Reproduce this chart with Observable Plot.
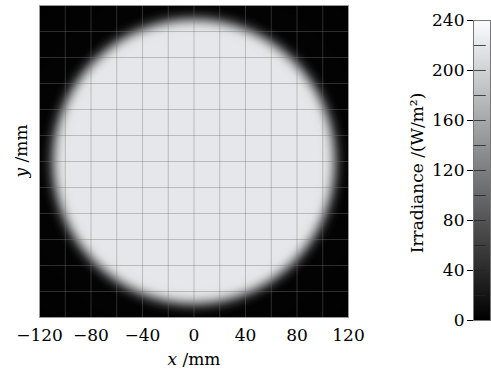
<!DOCTYPE html>
<html><head><meta charset="utf-8">
<script src="https://cdn.jsdelivr.net/npm/d3@7"></script>
<script src="https://cdn.jsdelivr.net/npm/@observablehq/plot@0.6"></script>
<style>
body{margin:0;background:#fff;}
#wrap{position:relative;width:491px;height:370px;overflow:hidden;font-family:"DejaVu Serif",serif;}
#main{position:absolute;left:0;top:0;}
#cb{position:absolute;left:390px;top:0;}
</style></head><body><div id="wrap"><div id="main"></div><div id="cb"></div></div>
<script>
// Tick labels
const xTicks = [-120, -80, -40, 0, 40, 80, 120];
const gridLines = [-120, -100, -80, -60, -40, -20, 0, 20, 40, 60, 80, 100, 120];
const cbTicks = [0, 40, 80, 120, 160, 200, 240];
const cbMinor = [20, 40, 60, 80, 100, 120, 140, 160, 180, 200, 220];
// Radial irradiance profile (radius in mm, irradiance in W/m^2)
const radiusMM   = [0,   96,  100, 102, 104, 106, 108, 110, 112, 114, 117, 120, 200];
const irradiance = [220, 220, 218, 212, 198, 174, 140, 102, 64,  34,  11,  3,   0];

const profile = d3.scaleLinear().domain(radiusMM).range(irradiance).clamp(true);
const grayRange = ["#000000", "#fbfcff"];
const font = "DejaVu Serif";

const main = Plot.plot({
  width: 380, height: 370,
  marginLeft: 39, marginRight: 32, marginTop: 5, marginBottom: 53,
  style: {fontFamily: font, fontSize: "17px", background: "transparent", color: "#000", overflow: "visible"},
  x: {domain: [-120, 120]},
  y: {domain: [-120, 120]},
  color: {type: "linear", domain: [0, 240], range: grayRange},
  marks: [
    Plot.raster({x1: -120, x2: 120, y1: -120, y2: 120, pixelSize: 1,
      fill: (x, y) => profile(Math.hypot(x, y))}),
    Plot.ruleX(gridLines, {stroke: "#7a7070", strokeOpacity: 0.38}),
    Plot.ruleY(gridLines, {stroke: "#7a7070", strokeOpacity: 0.38}),
    Plot.frame({stroke: "#999"}),
    Plot.axisX({ticks: xTicks, tickSize: 0, tickPadding: 11, label: null, tickFormat: d => d === 0 ? "0" : (d < 0 ? "\u2212" + (-d) : String(d))}),
    Plot.axisY({ticks: [], label: null})
  ]
});
document.getElementById("main").appendChild(main);

const cb = Plot.plot({
  width: 101, height: 370,
  marginLeft: 83, marginRight: 1, marginTop: 20, marginBottom: 50,
  style: {fontFamily: font, fontSize: "17px", background: "transparent", color: "#000", overflow: "visible"},
  x: {domain: [0, 1], axis: null},
  y: {domain: [0, 240]},
  color: {type: "linear", domain: [0, 240], range: grayRange},
  marks: [
    Plot.raster({x1: 0, x2: 1, y1: 0, y2: 240, pixelSize: 1, fill: (x, y) => y}),
    Plot.ruleY(cbMinor, {x1: 0, x2: 0.75, stroke: "#222", strokeOpacity: 0.8}),
    Plot.frame({stroke: "#777"}),
    Plot.axisY({ticks: cbTicks, tickSize: 6, tickPadding: 3, label: null})
  ]
});
document.getElementById("cb").appendChild(cb);

// Axis titles with italic variable names
const ms = d3.select(main);
const xl = ms.append("text").attr("x", 194).attr("y", 365).attr("text-anchor", "middle")
  .attr("font-family", font).attr("font-size", 17).attr("fill", "#000");
xl.append("tspan").attr("font-style", "italic").text("x");
xl.append("tspan").text(" /mm");
const yl = ms.append("text").attr("transform", "translate(27,151) rotate(-90)").attr("text-anchor", "middle")
  .attr("font-family", font).attr("font-size", 17).attr("fill", "#000");
yl.append("tspan").attr("font-style", "italic").text("y");
yl.append("tspan").text(" /mm");
d3.select(cb).append("text").attr("transform", "translate(33,173) rotate(-90)").attr("text-anchor", "middle")
  .attr("font-family", font).attr("font-size", 17).attr("fill", "#000")
  .text("Irradiance /(W/m\u00B2)");
</script></body></html>
